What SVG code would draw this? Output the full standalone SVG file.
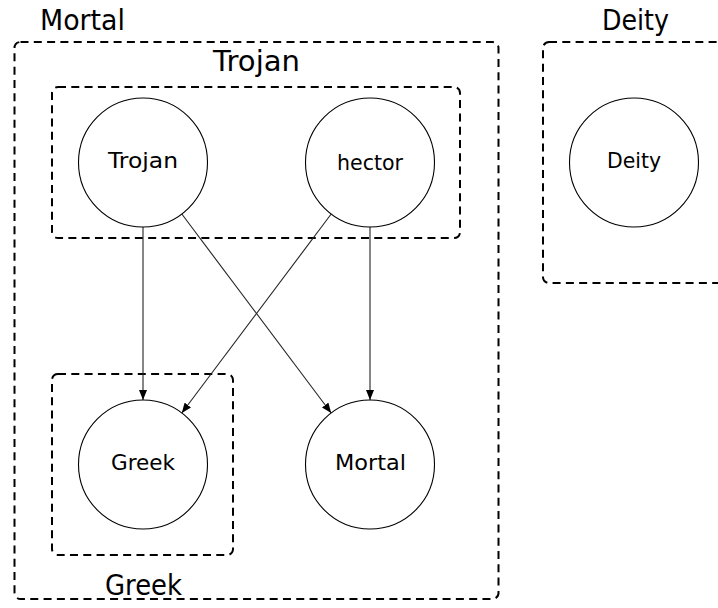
<svg xmlns="http://www.w3.org/2000/svg" width="718" height="608" viewBox="0 0 718 608">
  <style>
    .cluster { fill: none; stroke: #000; stroke-width: 2; stroke-dasharray: 8 5.3; }
    .clabel { font-family: "DejaVu Sans", "Liberation Sans", sans-serif; font-size: 28px; fill: #000; text-anchor: middle; }
    .node circle { fill: #fff; stroke: #000; stroke-width: 1.1; }
    .node text { font-family: "DejaVu Sans", "Liberation Sans", sans-serif; font-size: 22px; fill: #000; text-anchor: middle; }
    .edge { stroke: #222; stroke-width: 1.1; fill: none; marker-end: url(#arrow); }
  </style>
  <defs>
    <marker id="arrow" viewBox="0 0 10 8" refX="10" refY="4" markerWidth="10" markerHeight="8" markerUnits="userSpaceOnUse" orient="auto">
      <path d="M0,0 L10,4 L0,8 Z" fill="#000"/>
    </marker>
  </defs>
  <rect width="718" height="608" fill="#fff"/>

  <!-- clusters -->
  <g id="cluster-mortal">
    <rect class="cluster" x="14.5" y="42" width="484" height="557" rx="6"/>
    <text class="clabel" x="82.5" y="30" textLength="85" lengthAdjust="spacingAndGlyphs">Mortal</text>
  </g>
  <g id="cluster-trojan">
    <rect class="cluster" x="52" y="87" width="408" height="151" rx="6"/>
    <text class="clabel" x="256.5" y="71" textLength="87" lengthAdjust="spacingAndGlyphs">Trojan</text>
  </g>
  <g id="cluster-greek">
    <rect class="cluster" x="52" y="374" width="181" height="181" rx="6"/>
    <text class="clabel" x="143.5" y="595" textLength="77" lengthAdjust="spacingAndGlyphs">Greek</text>
  </g>
  <g id="cluster-deity">
    <rect class="cluster" x="543" y="42" width="200" height="241" rx="6"/>
    <text class="clabel" x="635.5" y="30" textLength="67" lengthAdjust="spacingAndGlyphs">Deity</text>
  </g>

  <!-- connectors -->
  <g id="edges">
    <line class="edge" x1="143" y1="227" x2="143" y2="400"/>
    <line class="edge" x1="181.8" y1="214" x2="331.2" y2="413"/>
    <line class="edge" x1="331.2" y1="214" x2="181.8" y2="413"/>
    <line class="edge" x1="370" y1="227" x2="370" y2="400"/>
  </g>

  <!-- nodes -->
  <g id="node-trojan" class="node">
    <circle cx="143" cy="162.5" r="64.5"/>
    <text x="143" y="168" textLength="70" lengthAdjust="spacingAndGlyphs">Trojan</text>
  </g>
  <g id="node-hector" class="node">
    <circle cx="370" cy="162.5" r="64.5"/>
    <text x="370" y="170" textLength="66" lengthAdjust="spacingAndGlyphs">hector</text>
  </g>
  <g id="node-deity" class="node">
    <circle cx="634" cy="162.5" r="64.5"/>
    <text x="634" y="168" textLength="54" lengthAdjust="spacingAndGlyphs">Deity</text>
  </g>
  <g id="node-greek" class="node">
    <circle cx="143" cy="464.5" r="64.5"/>
    <text x="143" y="470" textLength="64" lengthAdjust="spacingAndGlyphs">Greek</text>
  </g>
  <g id="node-mortal" class="node">
    <circle cx="370" cy="464.5" r="64.5"/>
    <text x="370.5" y="470" textLength="71" lengthAdjust="spacingAndGlyphs">Mortal</text>
  </g>
</svg>
